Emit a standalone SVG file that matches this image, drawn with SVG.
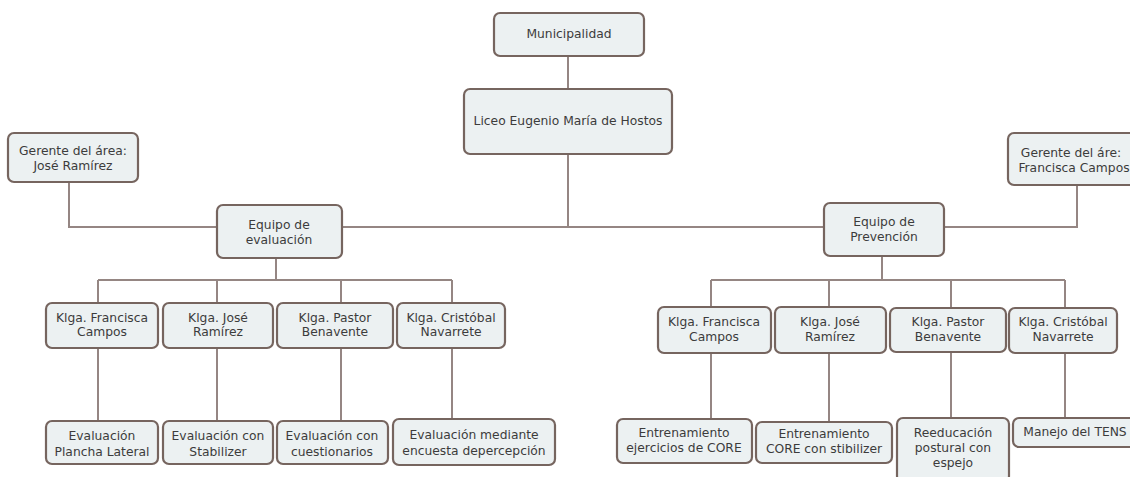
<svg xmlns="http://www.w3.org/2000/svg" width="1130" height="477" viewBox="0 0 1130 477">
<style>
.box{fill:#ecf1f2;stroke:#76655f;stroke-width:2.2}
.t{font-family:"DejaVu Sans",Verdana,sans-serif;font-size:12.3px;fill:#3c3c3c;text-anchor:middle;dominant-baseline:central}
.c{fill:none;stroke:#958683;stroke-width:2}
</style>
<rect width="1130" height="477" fill="#ffffff"/>
<g id="connectors">
<path class="c" d="M568 56V89M568 154V227M69 182V227H1077V185"/>
<path class="c" d="M276 258V280M98 280H452M98 280V303M217 280V303M341 280V303M452 280V303"/>
<path class="c" d="M98 348V421M217 348V421M341 348V421M452 348V419"/>
<path class="c" d="M882 256V280M711 280H1065M711 280V307M829 280V307M951 280V308M1065 280V308"/>
<path class="c" d="M711 353V419M829 353V422M951 353V418M1065 353V418"/>
</g>
<g id="municipalidad"><rect class="box" x="494" y="13" width="150" height="43" rx="6"/><text class="t" x="569" y="34">Municipalidad</text></g>
<g id="liceo"><rect class="box" x="464" y="89" width="208" height="65" rx="6"/><text class="t" x="568" y="121">Liceo Eugenio María de Hostos</text></g>
<g id="gerente-izq"><rect class="box" x="8" y="133" width="130" height="49" rx="6"/><text class="t" x="73" y="151">Gerente del área:</text><text class="t" x="73" y="166">José Ramírez</text></g>
<g id="gerente-der"><rect class="box" x="1008" y="133" width="132" height="52" rx="6"/><text class="t" x="1071" y="153">Gerente del áre:</text><text class="t" x="1074" y="168">Francisca Campos</text></g>
<g id="equipo-eval"><rect class="box" x="217" y="205" width="125" height="53" rx="6"/><text class="t" x="279" y="225">Equipo de</text><text class="t" x="279" y="240">evaluación</text></g>
<g id="equipo-prev"><rect class="box" x="824" y="203" width="120" height="53" rx="6"/><text class="t" x="884" y="222">Equipo de</text><text class="t" x="884" y="237">Prevención</text></g>
<g id="e-francisca"><rect class="box" x="46" y="303" width="112" height="45" rx="6"/><text class="t" x="102" y="318">Klga. Francisca</text><text class="t" x="102" y="332">Campos</text></g>
<g id="e-jose"><rect class="box" x="163" y="303" width="110" height="45" rx="6"/><text class="t" x="218" y="318">Klga. José</text><text class="t" x="218" y="332">Ramírez</text></g>
<g id="e-pastor"><rect class="box" x="277" y="303" width="116" height="45" rx="6"/><text class="t" x="335" y="318">Klga. Pastor</text><text class="t" x="335" y="332">Benavente</text></g>
<g id="e-cristobal"><rect class="box" x="397" y="303" width="108" height="45" rx="6"/><text class="t" x="451" y="318">Klga. Cristóbal</text><text class="t" x="451" y="332">Navarrete</text></g>
<g id="e-plancha"><rect class="box" x="46" y="421" width="112" height="43" rx="6"/><text class="t" x="102" y="436">Evaluación</text><text class="t" x="102" y="452">Plancha Lateral</text></g>
<g id="e-stabilizer"><rect class="box" x="163" y="421" width="110" height="43" rx="6"/><text class="t" x="218" y="436">Evaluación con</text><text class="t" x="218" y="452">Stabilizer</text></g>
<g id="e-cuestionarios"><rect class="box" x="277" y="421" width="111" height="43" rx="6"/><text class="t" x="332" y="436">Evaluación con</text><text class="t" x="332" y="452">cuestionarios</text></g>
<g id="e-encuesta"><rect class="box" x="393" y="419" width="162" height="46" rx="6"/><text class="t" x="474" y="435">Evaluación mediante</text><text class="t" x="474" y="451">encuesta depercepción</text></g>
<g id="p-francisca"><rect class="box" x="658" y="307" width="113" height="46" rx="6"/><text class="t" x="714" y="322">Klga. Francisca</text><text class="t" x="714" y="337">Campos</text></g>
<g id="p-jose"><rect class="box" x="775" y="307" width="111" height="46" rx="6"/><text class="t" x="830" y="322">Klga. José</text><text class="t" x="830" y="337">Ramírez</text></g>
<g id="p-pastor"><rect class="box" x="890" y="308" width="116" height="44" rx="6"/><text class="t" x="948" y="322">Klga. Pastor</text><text class="t" x="948" y="337">Benavente</text></g>
<g id="p-cristobal"><rect class="box" x="1009" y="308" width="108" height="45" rx="6"/><text class="t" x="1063" y="322">Klga. Cristóbal</text><text class="t" x="1063" y="337">Navarrete</text></g>
<g id="p-core"><rect class="box" x="617" y="419" width="135" height="44" rx="6"/><text class="t" x="684" y="433">Entrenamiento</text><text class="t" x="684" y="448">ejercicios de CORE</text></g>
<g id="p-stibilizer"><rect class="box" x="756" y="422" width="136" height="41" rx="6"/><text class="t" x="824" y="434">Entrenamiento</text><text class="t" x="824" y="449">CORE con stibilizer</text></g>
<g id="p-reeducacion"><rect class="box" x="897" y="418" width="112" height="64" rx="6"/><text class="t" x="953" y="433">Reeducación</text><text class="t" x="953" y="448">postural con</text><text class="t" x="953" y="463">espejo</text></g>
<g id="p-tens"><rect class="box" x="1013" y="418" width="127" height="29" rx="6"/><text class="t" x="1075" y="432">Manejo del TENS</text></g>
</svg>
